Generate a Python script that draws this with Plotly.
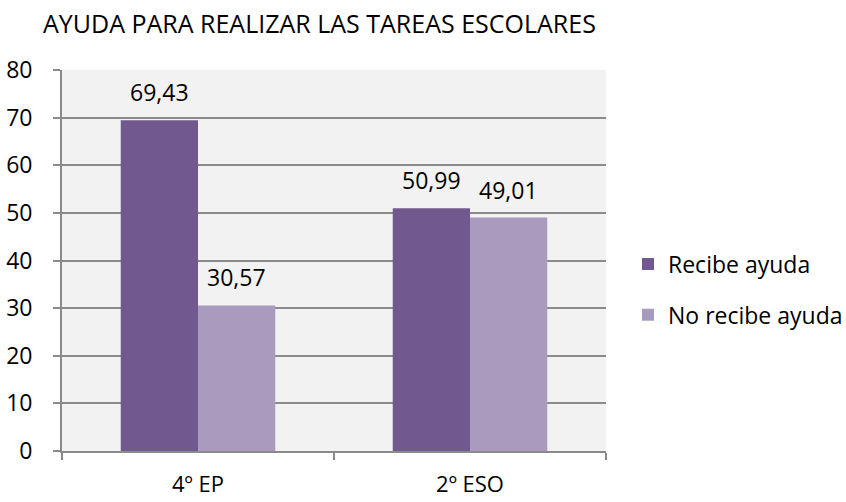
import plotly.graph_objects as go

categories = ["4º EP", "2º ESO"]
recibe = [69.43, 50.99]
no_recibe = [30.57, 49.01]
series_names = ["Recibe ayuda", "No recibe ayuda"]
title_text = "AYUDA PARA REALIZAR LAS TAREAS ESCOLARES"

FONT = "Open Sans"
SIZE = 23
colors = ["#71588f", "#a99bbe"]
series_values = [recibe, no_recibe]

fig = go.Figure()
for i, (name, vals) in enumerate(zip(series_names, series_values)):
    fig.add_trace(go.Bar(
        x=categories, y=vals, name=name,
        marker=dict(color=colors[i], line=dict(width=0)),
        legendgroup=name,
    ))

# value labels above each bar, decimal comma
bar_px = 77
for j, vals in enumerate(series_values):
    for cat, v in zip(categories, vals):
        fig.add_annotation(
            x=cat, y=v, xref="x", yref="y",
            text=f"{v:.2f}".replace(".", ","),
            showarrow=False, yanchor="bottom", xanchor="center",
            xshift=(j - 0.5) * bar_px, yshift=10,
            font=dict(family=FONT, size=SIZE, color="#000000"),
        )

fig.update_layout(
    width=846, height=502,
    margin=dict(l=62, r=240, t=70, b=51, autoexpand=False),
    paper_bgcolor="white", plot_bgcolor="#f2f2f2",
    barmode="group", bargap=0.432, bargroupgap=0,
    font=dict(family=FONT, size=SIZE, color="#000000"),
    title=dict(text=title_text, xref="container", x=43/846, xanchor="left",
               yref="container", y=1 - 24/502, yanchor="middle",
               font=dict(family=FONT, size=25, color="#000000")),
    legend=dict(xref="container", x=628/846, xanchor="left",
                yref="container", y=1 - 289.5/502, yanchor="middle",
                traceorder="grouped", tracegroupgap=18,
                bgcolor="rgba(0,0,0,0)",
                font=dict(family=FONT, size=SIZE)),
    showlegend=True,
)
fig.update_yaxes(range=[0, 80], dtick=10, showgrid=True, gridcolor="#8a8a8a", gridwidth=1.8,
                 showline=True, linecolor="#8a8a8a", linewidth=1.8,
                 ticks="outside", ticklen=7, tickcolor="#8a8a8a", tickwidth=1.8,
                 ticklabelstandoff=16, zeroline=False,
                 tickfont=dict(family=FONT, size=SIZE))
fig.update_xaxes(showline=True, linecolor="#8a8a8a", linewidth=1.8,
                 ticks="outside", tickson="boundaries", ticklen=7, tickcolor="#8a8a8a",
                 tickwidth=1.8, ticklabelstandoff=13,
                 tickfont=dict(family=FONT, size=22))

fig.write_html("out.html")
